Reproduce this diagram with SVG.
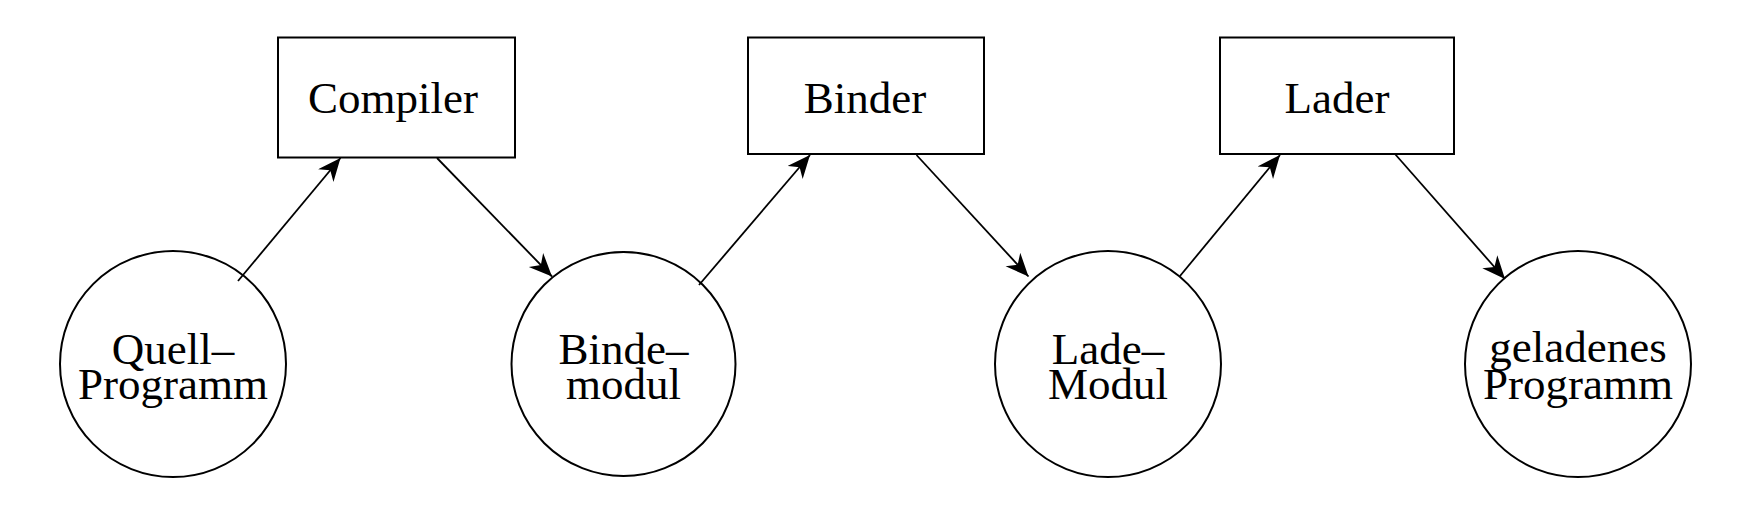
<svg xmlns="http://www.w3.org/2000/svg" width="1740" height="520" viewBox="0 0 1740 520">
<style>
.box{fill:#fff;stroke:#000;stroke-width:2}
.circ{fill:#fff;stroke:#000;stroke-width:2}
.lbl{font-family:"Liberation Serif","Times New Roman",serif;font-size:45px;fill:#000;text-anchor:middle}
.conn{stroke:#000;stroke-width:1.8;fill:none;marker-end:url(#ah)}
</style>
<defs>
<marker id="ah" markerUnits="userSpaceOnUse" markerWidth="26" markerHeight="22" refX="23" refY="10" orient="auto">
<path d="M0,0 L23,10 L0,20 L7,10 Z" fill="#000"/>
</marker>
</defs>
<rect width="1740" height="520" fill="#fff"/>
<g id="compiler"><rect class="box" x="278" y="37.5" width="237" height="120"/><text class="lbl" x="393" y="113">Compiler</text></g>
<g id="binder"><rect class="box" x="748" y="37.5" width="236" height="116.5"/><text class="lbl" x="865" y="113">Binder</text></g>
<g id="lader"><rect class="box" x="1220" y="37.5" width="234" height="116.5"/><text class="lbl" x="1337" y="113">Lader</text></g>
<g id="quell"><circle class="circ" cx="173" cy="364" r="113"/><text class="lbl" x="173" y="364">Quell–</text><text class="lbl" x="173" y="399">Programm</text></g>
<g id="bindemodul"><circle class="circ" cx="623.5" cy="364" r="112"/><text class="lbl" x="623.5" y="364">Binde–</text><text class="lbl" x="623.5" y="399">modul</text></g>
<g id="lademodul"><circle class="circ" cx="1108" cy="364" r="113"/><text class="lbl" x="1108" y="364">Lade–</text><text class="lbl" x="1108" y="399">Modul</text></g>
<g id="geladenes"><circle class="circ" cx="1578" cy="364" r="113"/><text class="lbl" x="1578" y="362">geladenes</text><text class="lbl" x="1578" y="399">Programm</text></g>
<g id="connectors">
<line class="conn" x1="238" y1="281" x2="340.5" y2="158"/>
<line class="conn" x1="437" y1="158" x2="552" y2="276.5"/>
<line class="conn" x1="699" y1="285" x2="810" y2="155"/>
<line class="conn" x1="916.5" y1="155" x2="1028.5" y2="276.5"/>
<line class="conn" x1="1180" y1="276" x2="1280" y2="155"/>
<line class="conn" x1="1395" y1="154" x2="1505" y2="279"/>
</g>
</svg>
